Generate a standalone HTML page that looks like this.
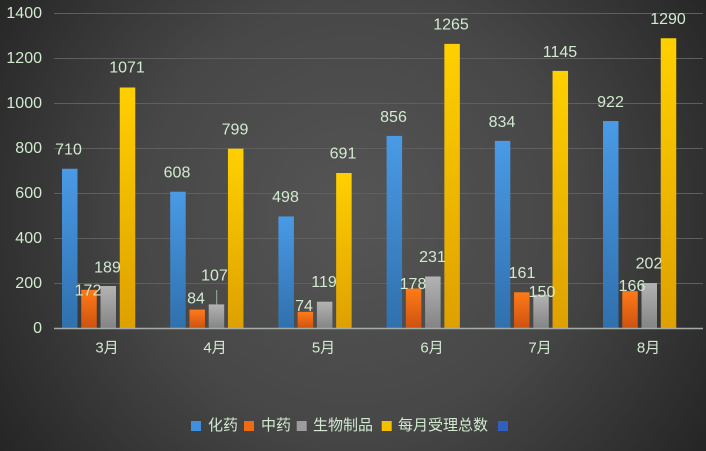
<!DOCTYPE html>
<html><head><meta charset="utf-8"><style>
html,body{margin:0;padding:0;background:#2a2a2a;}
svg{display:block;}
text{font-family:"Liberation Sans","Noto Sans CJK SC",sans-serif;fill:#d2ead0;}
</style></head><body>
<svg width="706" height="451" viewBox="0 0 706 451" xmlns="http://www.w3.org/2000/svg">
<defs>
<radialGradient id="bg" cx="353" cy="215" r="430" gradientUnits="userSpaceOnUse">
<stop offset="0" stop-color="#555555"/>
<stop offset="0.5" stop-color="#474747"/>
<stop offset="1" stop-color="#242424"/>
</radialGradient>
<linearGradient id="gb" x1="0" y1="0" x2="0" y2="1"><stop offset="0" stop-color="#4a9ae6"/><stop offset="1" stop-color="#3070ad"/></linearGradient>
<linearGradient id="go" x1="0" y1="0" x2="0" y2="1"><stop offset="0" stop-color="#ff7a18"/><stop offset="1" stop-color="#cc5210"/></linearGradient>
<linearGradient id="gg" x1="0" y1="0" x2="0" y2="1"><stop offset="0" stop-color="#b3b3b3"/><stop offset="1" stop-color="#848484"/></linearGradient>
<linearGradient id="gy" x1="0" y1="0" x2="0" y2="1"><stop offset="0" stop-color="#ffd000"/><stop offset="1" stop-color="#dea000"/></linearGradient>
</defs>
<rect x="0" y="0" width="706" height="451" fill="url(#bg)"/>
<g stroke="#5f5f5f" stroke-width="1">
<line x1="54" y1="13.5" x2="703" y2="13.5"/>
<line x1="54" y1="58.5" x2="703" y2="58.5"/>
<line x1="54" y1="103.5" x2="703" y2="103.5"/>
<line x1="54" y1="148.5" x2="703" y2="148.5"/>
<line x1="54" y1="193.5" x2="703" y2="193.5"/>
<line x1="54" y1="238.5" x2="703" y2="238.5"/>
<line x1="54" y1="283.5" x2="703" y2="283.5"/>
</g>
<g font-size="16" text-anchor="end" dominant-baseline="central">
<text x="42" y="13.5">1400</text>
<text x="42" y="58.5">1200</text>
<text x="42" y="103.5">1000</text>
<text x="42" y="148.5">800</text>
<text x="42" y="193.5">600</text>
<text x="42" y="238.5">400</text>
<text x="42" y="283.5">200</text>
<text x="42" y="328.5">0</text>
</g>
<!-- bars -->
<g>
<!-- 3月 -->
<rect x="62" y="168.75" width="15.5" height="159.75" fill="url(#gb)"/>
<rect x="81.25" y="289.8" width="15.5" height="38.7" fill="url(#go)"/>
<rect x="100.5" y="286.0" width="15.5" height="42.5" fill="url(#gg)"/>
<rect x="119.75" y="87.5" width="15.5" height="241" fill="url(#gy)"/>
<!-- 4月 -->
<rect x="170.2" y="191.7" width="15.5" height="136.8" fill="url(#gb)"/>
<rect x="189.45" y="309.6" width="15.5" height="18.9" fill="url(#go)"/>
<rect x="208.7" y="304.4" width="15.5" height="24.1" fill="url(#gg)"/>
<rect x="227.95" y="148.7" width="15.5" height="179.8" fill="url(#gy)"/>
<!-- 5月 -->
<rect x="278.4" y="216.45" width="15.5" height="112.05" fill="url(#gb)"/>
<rect x="297.65" y="311.85" width="15.5" height="16.65" fill="url(#go)"/>
<rect x="316.9" y="301.7" width="15.5" height="26.8" fill="url(#gg)"/>
<rect x="336.15" y="173.0" width="15.5" height="155.5" fill="url(#gy)"/>
<!-- 6月 -->
<rect x="386.6" y="135.9" width="15.5" height="192.6" fill="url(#gb)"/>
<rect x="405.85" y="288.45" width="15.5" height="40.05" fill="url(#go)"/>
<rect x="425.1" y="276.5" width="15.5" height="52" fill="url(#gg)"/>
<rect x="444.35" y="43.9" width="15.5" height="284.6" fill="url(#gy)"/>
<!-- 7月 -->
<rect x="494.8" y="140.85" width="15.5" height="187.65" fill="url(#gb)"/>
<rect x="514.05" y="292.3" width="15.5" height="36.2" fill="url(#go)"/>
<rect x="533.3" y="294.75" width="15.5" height="33.75" fill="url(#gg)"/>
<rect x="552.55" y="70.9" width="15.5" height="257.6" fill="url(#gy)"/>
<!-- 8月 -->
<rect x="603" y="121.05" width="15.5" height="207.45" fill="url(#gb)"/>
<rect x="622.25" y="291.15" width="15.5" height="37.35" fill="url(#go)"/>
<rect x="641.5" y="283.05" width="15.5" height="45.45" fill="url(#gg)"/>
<rect x="660.75" y="38.25" width="15.5" height="290.25" fill="url(#gy)"/>
</g>
<line x1="54" y1="328.5" x2="703" y2="328.5" stroke="#a3ada3" stroke-width="1.5"/>
<line x1="216.7" y1="290" x2="216.7" y2="304.5" stroke="#9fb09f" stroke-width="1"/>
<g font-size="16" text-anchor="middle" dominant-baseline="central">
<text x="68.5" y="150">710</text>
<text x="88" y="291">172</text>
<text x="107.5" y="268">189</text>
<text x="127" y="68">1071</text>
<text x="177" y="173">608</text>
<text x="196" y="299">84</text>
<text x="214.5" y="276">107</text>
<text x="235" y="130">799</text>
<text x="285.5" y="197.5">498</text>
<text x="304" y="306.5">74</text>
<text x="324" y="282.5">119</text>
<text x="343" y="154">691</text>
<text x="393.5" y="117.5">856</text>
<text x="413" y="284.5">178</text>
<text x="432.5" y="257.5">231</text>
<text x="451" y="25">1265</text>
<text x="502" y="122.5">834</text>
<text x="522" y="273.5">161</text>
<text x="542" y="292.5">150</text>
<text x="560" y="52.5">1145</text>
<text x="610.5" y="102.5">922</text>
<text x="632" y="286.5">166</text>
<text x="649" y="264">202</text>
<text x="668" y="19.5">1290</text>
</g>
<g font-size="15" text-anchor="middle" dominant-baseline="central">
<text x="107" y="348">3月</text>
<text x="215" y="348">4月</text>
<text x="323.5" y="348">5月</text>
<text x="432" y="348">6月</text>
<text x="540" y="348">7月</text>
<text x="648.5" y="348">8月</text>
</g>
<g>
<rect x="191" y="421" width="10" height="10" fill="#3f8fdc"/>
<rect x="244" y="421" width="10" height="10" fill="#f06a12"/>
<rect x="296.7" y="421" width="10" height="10" fill="#9c9c9c"/>
<rect x="381.7" y="421" width="10" height="10" fill="#f5c000"/>
<rect x="498" y="421" width="10" height="10" fill="#2f5fc0"/>
</g>
<g font-size="15" dominant-baseline="central">
<text x="208" y="425.5">化药</text>
<text x="261" y="425.5">中药</text>
<text x="313" y="425.5">生物制品</text>
<text x="398" y="425.5">每月受理总数</text>
</g>
</svg>
</body></html>
